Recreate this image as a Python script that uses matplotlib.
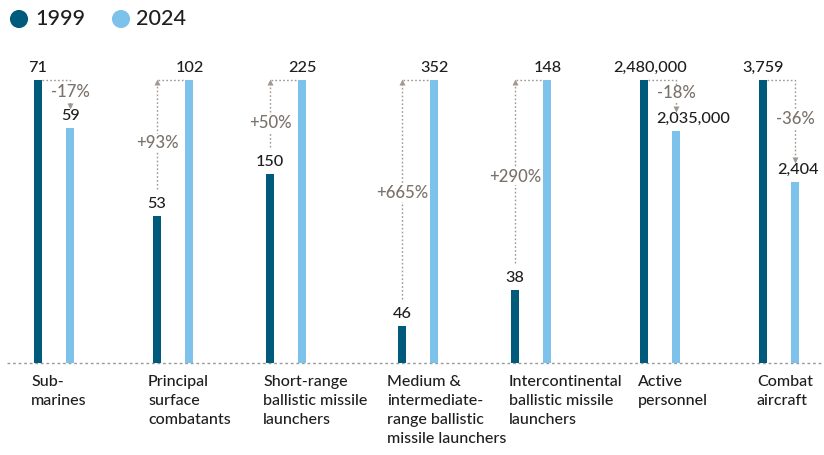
import matplotlib
matplotlib.use("Agg")
import matplotlib.pyplot as plt

plt.rcParams['font.family'] = ['Lato', 'DejaVu Sans']
plt.rcParams['font.weight'] = 'medium'

# ---- data ----
categories = ["Sub-\nmarines", "Principal\nsurface\ncombatants",
              "Short-range\nballistic missile\nlaunchers",
              "Medium &\nintermediate-\nrange ballistic\nmissile launchers",
              "Intercontinental\nballistic missile\nlaunchers",
              "Active\npersonnel", "Combat\naircraft"]
v1999 = [71, 53, 150, 46, 38, 2480000, 3759]
v2024 = [59, 102, 225, 352, 148, 2035000, 2404]
pct_labels = ["-17%", "+93%", "+50%", "+665%", "+290%", "-18%", "-36%"]
years = ["1999", "2024"]

# ---- layout (pixel positions) ----
W, H = 824, 455
BASE, TOP = 363, 80
SPAN = BASE - TOP
dark_x = [38, 157, 270, 402, 515, 644, 763]
pair_gap = 32.5
label_x = [31, 148, 263, 387, 509, 638, 757]
dark_lbl_dx = [0, 0, 0, 0, 0, 6, 0]
light_lbl_dx = [0, 0, 0, 0, 0, 17, 2]

C_DARK = "#005a7b"
C_LIGHT = "#7cc2ea"
C_GRAY = "#7a726b"
C_DOT = "#a09890"
C_TEXT = "#1e1e1e"

fig = plt.figure(figsize=(W / 100, H / 100), dpi=100)
ax = fig.add_axes([0, 0, 1, 1])
ax.set_xlim(0, W)
ax.set_ylim(-(H - BASE) / SPAN, 1 + TOP / SPAN)
ax.axis("off")


def py(p):
    return (BASE - p) / SPAN


def fmt(v):
    return f"{v:,}"


# baseline
ax.plot([7, W], [0, 0], color="#9a9a9a", lw=1.0, ls=(0, (2, 2)), zorder=1)

for i in range(len(categories)):
    a, b = v1999[i], v2024[i]
    m = max(a, b)
    ha_, hb_ = a / m, b / m
    xd = dark_x[i]
    xl = xd + pair_gap
    ax.bar([xd], [ha_], width=8, color=C_DARK, zorder=3)
    ax.bar([xl], [hb_], width=8, color=C_LIGHT, zorder=3)
    # value labels
    ax.text(xd + dark_lbl_dx[i], ha_ + 8 / SPAN, fmt(a), ha="center", va="baseline",
            fontsize=11.7, color=C_TEXT)
    ax.text(xl + light_lbl_dx[i], hb_ + 8 / SPAN, fmt(b), ha="center", va="baseline",
            fontsize=11.7, color=C_TEXT)
    dot = dict(color=C_DOT, lw=1.0, ls=(0, (1.2, 1.6)), zorder=2)
    if b < a:
        top_p = BASE - ha_ * SPAN
        low_top = BASE - hb_ * SPAN
        tip = low_top - 24
        ax.plot([xd + 4, xl, xl], [py(top_p), py(top_p), py(tip + 3)], **dot)
        ax.plot([xl], [py(tip + 2)], marker="v", ms=4, color=C_DOT, mec="none", zorder=2)
        ty = (top_p + tip) / 2
        ax.text(xl, py(ty), pct_labels[i], ha="center", va="center", fontsize=12,
                color=C_GRAY, zorder=4,
                bbox=dict(facecolor="white", edgecolor="none", pad=0.5))
    else:
        top_p = BASE - hb_ * SPAN
        low_top = BASE - ha_ * SPAN
        start = low_top - 27
        ax.plot([xd, xd], [py(start), py(top_p + 3)], **dot)
        ax.plot([xd + 1, xl - 4], [py(top_p), py(top_p)], **dot)
        ax.plot([xd], [py(top_p + 2)], marker="^", ms=4, color=C_DOT, mec="none", zorder=2)
        ty = top_p + 0.46 * (low_top - top_p)
        ax.text(xd, py(ty), pct_labels[i], ha="center", va="center", fontsize=12,
                color=C_GRAY, zorder=4,
                bbox=dict(facecolor="white", edgecolor="none", pad=0.5))
    # category label
    ax.text(label_x[i], py(375), categories[i], ha="left", va="top", fontsize=11.5,
            color=C_TEXT, linespacing=1.45)

# legend
ax.scatter([19], [py(19)], s=170, color=C_DARK, edgecolors="none")
ax.text(35, py(19), years[0], ha="left", va="center", fontsize=15.5, color=C_TEXT)
ax.scatter([121], [py(19)], s=170, color=C_LIGHT, edgecolors="none")
ax.text(136, py(19), years[1], ha="left", va="center", fontsize=15.5, color=C_TEXT)

fig.savefig("out.png", dpi=100)
